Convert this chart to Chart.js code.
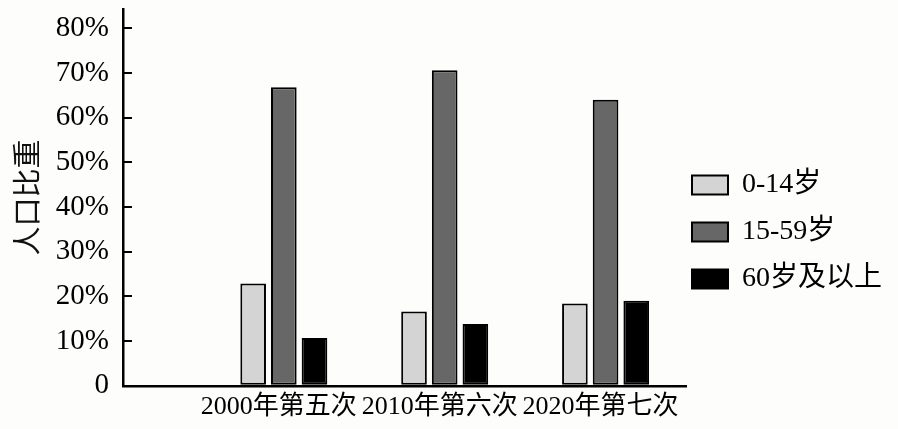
<!DOCTYPE html>
<html>
<head>
<meta charset="utf-8">
<script src="https://cdn.jsdelivr.net/npm/chart.js@4"></script>
<style>
  body { margin: 0; background: #fdfdfc; }
  #chart { display: block; }
</style>
</head>
<body>
<canvas id="chart" width="898" height="429"></canvas>
<script>
// 人口普查年龄结构
let censusLabels = ["2000年第五次", "2010年第六次", "2020年第七次"];
let ageGroups = ["0-14岁", "15-59岁", "60岁及以上"];
let young = [22.9, 16.6, 18.4];
let working = [66.8, 70.6, 64.0];
let elderly = [10.7, 13.8, 19.0];
let yTicks = [0, 10, 20, 30, 40, 50, 60, 70, 80];

let serif = "'Liberation Serif', 'Noto Sans CJK SC', serif";

function toPoints(values) {
    return values.map((v, i) => ({ x: i + 1, y: v }));
}

// nudge legend so it sits next to the axis end, a bit lower than centre
const legendNudge = {
    id: "legendNudge",
    afterLayout(chart) {
        let lg = chart.legend;
        lg.left -= 13; lg.right -= 13;
        lg.top += 13; lg.bottom += 13;
    }
};

let ctx = document.getElementById("chart").getContext("2d");
new Chart(ctx, {
    type: "bar",
    data: {
        datasets: [
            { label: ageGroups[0], data: toPoints(young), backgroundColor: "#d4d4d4" },
            { label: ageGroups[1], data: toPoints(working), backgroundColor: "#676767" },
            { label: ageGroups[2], data: toPoints(elderly), backgroundColor: "#000000" }
        ]
    },
    options: {
        responsive: false,
        animation: false,
        devicePixelRatio: 1,
        layout: { autoPadding: false, padding: { left: 4, top: 9, right: 0, bottom: 0 } },
        datasets: {
            bar: {
                borderColor: "#000",
                borderWidth: 2,
                borderSkipped: false,
                categoryPercentage: 0.572,
                barPercentage: 0.836
            }
        },
        scales: {
            x: {
                type: "linear",
                offset: false,
                min: 0,
                max: 3.5,
                afterBuildTicks: function (scale) {
                    scale.ticks = censusLabels.map((c, i) => ({ value: i + 1 }));
                },
                afterFit: function (scale) {
                    scale.paddingLeft = 0;
                    scale.paddingRight = 0;
                },
                grid: { display: false, drawTicks: false, offset: false },
                border: { color: "#000", width: 2.5 },
                ticks: {
                    autoSkip: false,
                    maxRotation: 0,
                    padding: 6,
                    labelOffset: -5,
                    color: "#000",
                    font: { family: serif, size: 26 },
                    callback: function (value, index) {
                        return censusLabels[index];
                    }
                }
            },
            y: {
                min: 0,
                max: 84.3,
                afterBuildTicks: function (scale) {
                    scale.ticks = yTicks.map(v => ({ value: v }));
                },
                afterFit: function (scale) {
                    scale.width -= scale.options.ticks.padding;
                    scale.paddingTop = 0;
                    scale.paddingBottom = 0;
                },
                grid: { drawOnChartArea: false, tickLength: -9, color: "#000", lineWidth: 2 },
                border: { color: "#000", width: 2.5 },
                ticks: {
                    padding: 23,
                    color: "#000",
                    font: { family: serif, size: 29 },
                    callback: function (value) {
                        return value === 0 ? "0" : value + "%";
                    }
                },
                title: {
                    display: true,
                    text: "人口比重",
                    color: "#111",
                    font: { family: "'Noto Sans CJK SC', sans-serif", size: 29 },
                    padding: { top: 6, bottom: 11 }
                }
            }
        },
        plugins: {
            tooltip: { enabled: false },
            legend: {
                position: "right",
                maxWidth: 212,
                labels: {
                    boxWidth: 36,
                    boxHeight: 19,
                    padding: 19,
                    color: "#000",
                    font: { family: serif, size: 28 }
                }
            }
        }
    },
    plugins: [legendNudge]
});
</script>
</body>
</html>
